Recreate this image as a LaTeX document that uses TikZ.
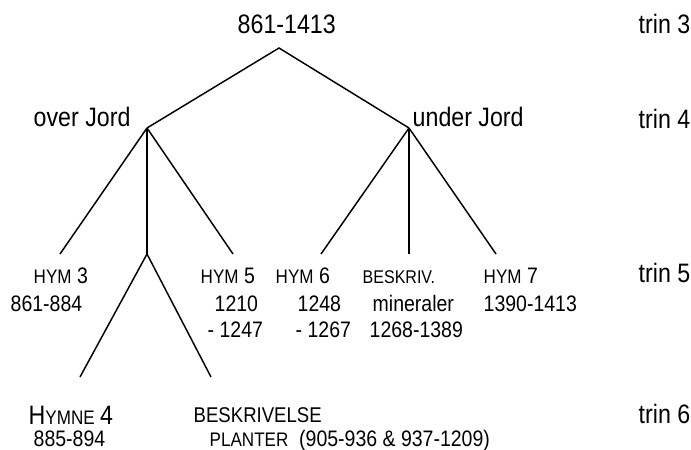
\documentclass[tikz,border=0pt]{standalone}
\usepackage{fontspec}
\setmainfont{Liberation Sans}[FakeStretch=0.87]

\newcommand{\bigsize}{\fontsize{20}{24}\selectfont}
\newcommand{\lowsize}{\fontsize{16.8}{20}\selectfont}
\newcommand{\capsize}{\fontsize{14.7}{17}\selectfont}

\begin{document}
\begin{tikzpicture}[x=0.75pt, y=-0.75pt, line width=1.1pt,
    upper/.style={anchor=base west, inner sep=0pt, font=\bigsize},
    lower/.style={anchor=base west, inner sep=0pt, font=\lowsize}]
    \useasboundingbox (0,0) rectangle (691,449);

    % junctions and line ends
    \coordinate (apex) at (279,48);
    \coordinate (overJunction) at (147,128);
    \coordinate (underJunction) at (409,128);
    \coordinate (hymThreeEnd) at (60,254);
    \coordinate (overMiddle) at (147,254);
    \coordinate (hymFiveEnd) at (233,254);
    \coordinate (hymneFourEnd) at (80,377);
    \coordinate (plantEnd) at (211,377);
    \coordinate (hymSixEnd) at (321,254);
    \coordinate (mineralEnd) at (409,254);
    \coordinate (hymSevenEnd) at (496,254);

    \draw (overJunction) -- (apex) -- (underJunction);
    \draw (overJunction) -- (hymThreeEnd);
    \draw (overJunction) -- (overMiddle);
    \draw (overJunction) -- (hymFiveEnd);
    \draw (hymneFourEnd) -- (overMiddle) -- (plantEnd);
    \draw (underJunction) -- (hymSixEnd);
    \draw (underJunction) -- (mineralEnd);
    \draw (underJunction) -- (hymSevenEnd);

    \node[upper] (rootText) at (237,34) {861-1413};
    \node[upper] (overJord) at (33,127) {over Jord};
    \node[upper] (underJord) at (412,127) {under Jord};

    \node[upper] (trinThree) at (638,34) {trin 3};
    \node[upper] (trinFour) at (638,128) {trin 4};
    \node[upper] (trinFive) at (638,282) {trin 5};
    \node[upper] (trinSix) at (638,423) {trin 6};

    \node[lower] (hymThree) at (33,283) {{\capsize HYM} 3};
    \node[lower] (hymThreeDates) at (10,311) {861-884};

    \node[lower] (hymFive) at (200,283) {{\capsize HYM} 5};
    \node[lower] (hymFiveFrom) at (214,311) {1210};
    \node[lower] (hymFiveTo) at (207,337) {- 1247};

    \node[lower] (hymSix) at (275,283) {{\capsize HYM} 6};
    \node[lower] (hymSixFrom) at (297,311) {1248};
    \node[lower] (hymSixTo) at (295,337) {- 1267};

    \node[lower] (mineral) at (362,283) {\fontsize{13.8}{16}\selectfont BESKRIV.};
    \node[lower] (mineralName) at (372,311) {mineraler};
    \node[lower] (mineralDates) at (369,337) {1268-1389};

    \node[lower] (hymSeven) at (483,283) {{\capsize HYM} 7};
    \node[lower] (hymSevenDates) at (483,311) {1390-1413};

    \node[lower] (hymneFour) at (28,424) {{\bigsize H}{\capsize YMNE} {\bigsize 4}};
    \node[lower] (hymneFourDates) at (33,446) {885-894};

    \node[lower] (plant) at (193,422) {\fontsize{16}{19}\selectfont BESKRIVELSE};
    \node[lower] (plantDates) at (209,446) {{\capsize PLANTER}\ \ (905-936 \& 937-1209)};
\end{tikzpicture}
\end{document}
